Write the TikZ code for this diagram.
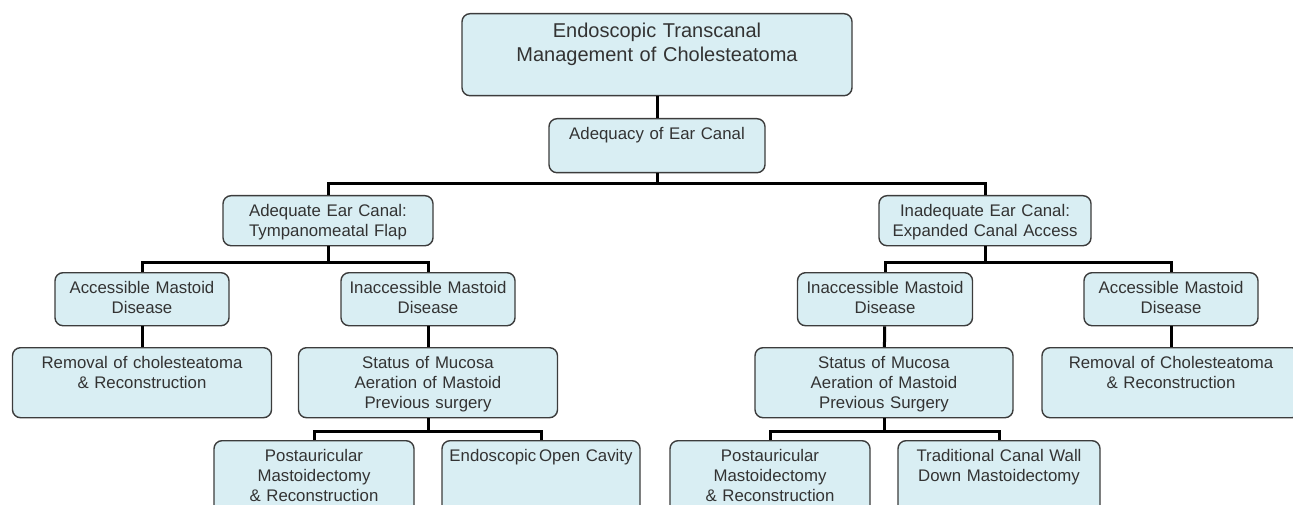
\documentclass[tikz,border=0pt]{standalone}
\usepackage{fontspec}
\setmainfont{Liberation Sans}
\definecolor{boxfill}{HTML}{D9EEF3}
\definecolor{boxline}{HTML}{3C3C3C}
\definecolor{boxtext}{HTML}{333333}
\tikzset{
	box/.style 2 args={draw=boxline, fill=boxfill, line width=1.4pt, rounded corners=8pt,
		anchor=north, inner sep=0pt, align=center, text=boxtext,
		font=\fontsize{16.8}{20}\selectfont,
		text width=#1, text height=21pt, text depth=#2-21pt},
	link/.style={line width=3pt, black},
}
\begin{document}
\begin{tikzpicture}[x=1pt, y=-1pt]
	\useasboundingbox (0,0) rectangle (1293,505);
	\clip (0,0) rectangle (1293,505);
	% top of the tree
	\node[box={390pt}{82pt}, font=\fontsize{20}{23.5}\selectfont, text height=24pt, text depth=58pt] (root) at (657,13) {Endoscopic Transcanal\\Management of Cholesteatoma};
	\node[box={216pt}{54pt}] (adequacy) at (657,118) {Adequacy of Ear Canal};
	\node[box={210pt}{50pt}] (adequate) at (328,195) {Adequate Ear Canal:\\Tympanomeatal Flap};
	\node[box={212pt}{50pt}] (inadequate) at (985,195) {Inadequate Ear Canal:\\Expanded Canal Access};
	% left branch
	\node[box={174pt}{53pt}] (accL) at (142,272) {Accessible Mastoid\\Disease};
	\node[box={174pt}{53pt}] (inaccL) at (428,272) {Inaccessible Mastoid\\Disease};
	\node[box={259pt}{70pt}] (remL) at (142,347) {Removal of cholesteatoma\\\& Reconstruction};
	\node[box={259pt}{70pt}] (statL) at (428,347) {Status of Mucosa\\Aeration of Mastoid\\Previous surgery};
	\node[box={200pt}{80pt}] (postL) at (314,440) {Postauricular\\Mastoidectomy\\\& Reconstruction};
	\node[box={198pt}{80pt}] (openL) at (541,440) {Endoscopic\,Open Cavity};
	% right branch
	\node[box={175pt}{53pt}] (inaccR) at (885,272) {Inaccessible Mastoid\\Disease};
	\node[box={174pt}{53pt}] (accR) at (1171,272) {Accessible Mastoid\\Disease};
	\node[box={258pt}{70pt}] (statR) at (884,347) {Status of Mucosa\\Aeration of Mastoid\\Previous Surgery};
	\node[box={258pt}{70pt}] (remR) at (1171,347) {Removal of Cholesteatoma\\\& Reconstruction};
	\node[box={200pt}{80pt}] (postR) at (770,440) {Postauricular\\Mastoidectomy\\\& Reconstruction};
	\node[box={202pt}{80pt}] (tradR) at (999,440) {Traditional Canal Wall\\Down Mastoidectomy};
	% connectors
	\draw[link] (root) -- (adequacy);
	\draw[link] (adequacy.south) -- ++(0,10) -| (adequate.north);
	\draw[link] (adequacy.south) -- ++(0,10) -| (inadequate.north);
	\draw[link] (adequate.south) -- ++(0,16) -| (accL.north);
	\draw[link] (adequate.south) -- ++(0,16) -| (inaccL.north);
	\draw[link] (inadequate.south) -- ++(0,16) -| (inaccR.north);
	\draw[link] (inadequate.south) -- ++(0,16) -| (accR.north);
	\draw[link] (accL) -- (remL);
	\draw[link] (inaccL) -- (statL);
	\draw[link] (inaccR) -- (statR);
	\draw[link] (accR) -- (remR);
	\draw[link] (statL.south) -- ++(0,13) -| (postL.north);
	\draw[link] (statL.south) -- ++(0,13) -| (openL.north);
	\draw[link] (statR.south) -- ++(0,13) -| (postR.north);
	\draw[link] (statR.south) -- ++(0,13) -| (tradR.north);
\end{tikzpicture}
\end{document}
